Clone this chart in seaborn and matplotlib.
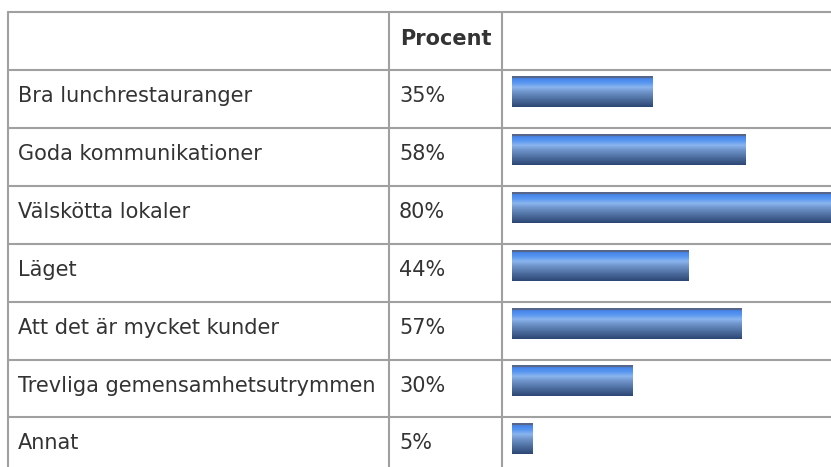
import numpy as np
import pandas as pd
import matplotlib
matplotlib.use("Agg")
import matplotlib.pyplot as plt
from matplotlib.colors import LinearSegmentedColormap
import seaborn as sns

categories = [
    "Bra lunchrestauranger",
    "Goda kommunikationer",
    "Välskötta lokaler",
    "Läget",
    "Att det är mycket kunder",
    "Trevliga gemensamhetsutrymmen",
    "Annat",
]
values = [35, 58, 80, 44, 57, 30, 5]
header = "Procent"

sns.set_theme(style="white")
plt.rcParams["font.family"] = ["DejaVu Sans"]

df = pd.DataFrame({"kategori": categories, "procent": values})

W, H = 831, 467
fig = plt.figure(figsize=(W / 100, H / 100), dpi=100)
fig.patch.set_facecolor("white")

# table grid + text, in pixel coordinates
tab = fig.add_axes([0, 0, 1, 1])
tab.set_xlim(0, W)
tab.set_ylim(H, 0)
tab.axis("off")

grid_col = "#a0a0a0"
lw = 1.5
top, head_bottom, row_h = 12, 70, 57.9
col_x = [8, 389, 502]
tab.plot([col_x[0], W], [top, top], color=grid_col, lw=lw)
for i in range(len(categories)):
    y = head_bottom + i * row_h
    tab.plot([col_x[0], W], [y, y], color=grid_col, lw=lw)
for x in col_x:
    tab.plot([x, x], [top, H], color=grid_col, lw=lw)

txt_col = "#333333"
fs = 15
tab.text(400, 39, header, fontsize=fs, fontweight="bold",
         color=txt_col, va="center", ha="left")
for i, (cat, val) in enumerate(zip(categories, values)):
    yc = head_bottom + i * row_h + 26
    tab.text(18, yc, cat, fontsize=fs, color=txt_col, va="center", ha="left")
    tab.text(399, yc, f"{val}%", fontsize=fs, color=txt_col, va="center", ha="left")

# bars
px_per = 4.02
x0_px = 512
ax = fig.add_axes([col_x[2] / W, 0, (W - col_x[2]) / W, 1])
ax.patch.set_alpha(0)
bar_h = 31 / row_h
sns.barplot(data=df, y="kategori", x="procent", orient="h", color="#4477cc",
            width=bar_h, ax=ax)

cmap = LinearSegmentedColormap.from_list("bar", [
    (0.0, "#56668a"), (0.07, "#56668a"), (0.08, "#4686ec"), (0.22, "#5a98f0"),
    (0.36, "#8ab4ee"), (0.46, "#789ed6"), (0.7, "#5476a8"), (1.0, "#2c4674"),
])
grad = np.linspace(0, 1, 128).reshape(-1, 1)
for p in list(ax.patches):
    x, y, w, h = p.get_x(), p.get_y(), p.get_width(), p.get_height()
    ax.imshow(grad, extent=[x, x + w, y + h, y], origin="upper", aspect="auto",
              cmap=cmap, interpolation="nearest", zorder=3)
    p.set_visible(False)

bar_c0 = (head_bottom + 21.5) / row_h
ax.set_xlim(-(x0_px - col_x[2]) / px_per, (W - x0_px) / px_per)
ax.set_ylim((H - head_bottom - 21.5) / row_h, -bar_c0)
ax.axis("off")

fig.savefig("out.png", dpi=100, facecolor="white")
